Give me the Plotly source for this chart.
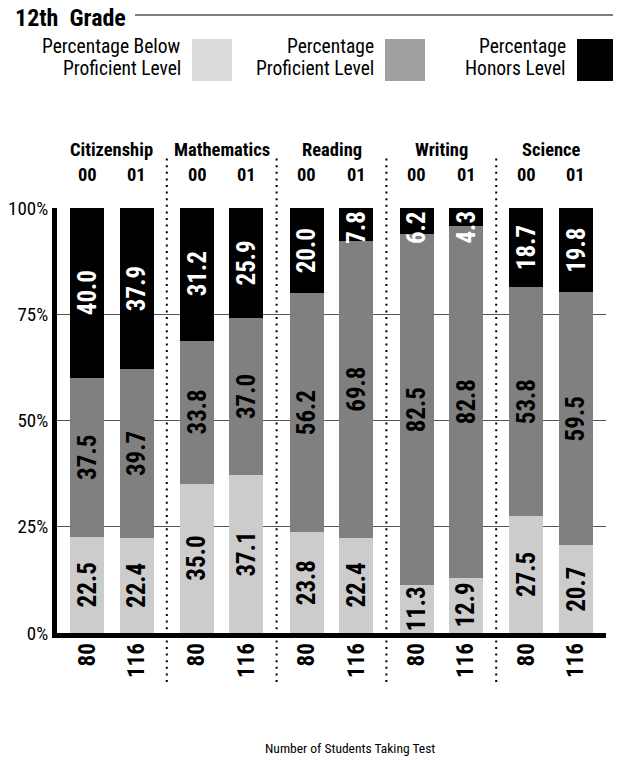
import plotly.graph_objects as go

subjects = ["Citizenship", "Mathematics", "Reading", "Writing", "Science"]
years = ["00", "01"]
below = [22.5, 22.4, 35.0, 37.1, 23.8, 22.4, 11.3, 12.9, 27.5, 20.7]
proficient = [37.5, 39.7, 33.8, 37.0, 56.2, 69.8, 82.5, 82.8, 53.8, 59.5]
honors = [40.0, 37.9, 31.2, 25.9, 20.0, 7.8, 6.2, 4.3, 18.7, 19.8]
students = ["80", "116", "80", "116", "80", "116", "80", "116", "80", "116"]
y_ticks = [0, 25, 50, 75, 100]
y_tick_labels = ["0%", "25%", "50%", "75%", "100%"]
legend_lines = [["Percentage Below", "Proficient Level"],
                ["Percentage", "Proficient Level"],
                ["Percentage", "Honors Level"]]
title_text = "12th\u00a0\u00a0Grade"
x_title = "Number of Students Taking Test"

W, H = 621, 761
OX, OY = 8, 8            # page body offset
L, R, T, B = 49, 23, 200, 136
PW, PH = W - L - R, H - T - B
XR = [-0.5, len(subjects) - 0.5]


def sx(px):
    return (px - OX - L) / PW


def sy(py):
    return (H - B - (py - OY)) / PH


FN = "Roboto Condensed, Open Sans Condensed, Arial Narrow, sans-serif"

off = 0.225
xs = []
for g in range(len(subjects)):
    for j in range(len(years)):
        xs.append(g + (-off if j == 0 else off))

bar_c = ["#cccccc", "#808080", "#000000"]
leg_c = ["#dcdcde", "#a0a0a2", "#000000"]

fig = go.Figure()
for vals, col, nm in zip([below, proficient, honors], bar_c, ["Below", "Proficient", "Honors"]):
    fig.add_trace(go.Bar(x=xs, y=vals, width=0.31, marker=dict(color=col, line=dict(width=0)),
                         name=nm, showlegend=False, hoverinfo="skip"))

VF = dict(family=FN, size=25, weight="bold")
ann = []
for i, x in enumerate(xs):
    b, p, h = below[i], proficient[i], honors[i]
    ann.append(dict(x=x, y=b / 2, text=f"{b:.1f}", textangle=-90, showarrow=False,
                    xanchor="center", yanchor="middle", font=dict(VF, color="black")))
    ann.append(dict(x=x, y=b + p / 2, text=f"{p:.1f}", textangle=-90, showarrow=False,
                    xanchor="center", yanchor="middle", font=dict(VF, color="black")))
    if h < 10:
        ann.append(dict(x=x, y=b + p + h, yanchor="top", yshift=-1, text=f"{h:.1f}", textangle=-90,
                        xanchor="center", showarrow=False, font=dict(VF, color="white")))
    else:
        ann.append(dict(x=x, y=b + p + h / 2, text=f"{h:.1f}", textangle=-90, showarrow=False,
                        xanchor="center", yanchor="middle", font=dict(VF, color="white")))

HF = dict(family=FN, size=18.5, color="black", weight="bold")
for g, s in enumerate(subjects):
    ann.append(dict(x=g, xref="x", y=sy(150), yref="paper", text=s, showarrow=False,
                    xanchor="center", yanchor="middle", font=HF))
for i, x in enumerate(xs):
    ann.append(dict(x=x, xref="x", y=sy(175), yref="paper", text=years[i % 2], showarrow=False,
                    xanchor="center", yanchor="middle", font=HF))

ann.append(dict(x=sx(13), xref="paper", xanchor="left", y=sy(18), yref="paper", yanchor="middle",
                text=title_text, showarrow=False,
                font=dict(family=FN, size=24, color="black", weight="bold")))

ann.append(dict(x=sx(350), xref="paper", xanchor="center", y=sy(748), yref="paper", yanchor="middle",
                text=x_title, showarrow=False, font=dict(family=FN, size=13.5, color="black")))

shapes = [dict(type="line", xref="paper", yref="paper", x0=sx(135), x1=sx(640),
               y0=sy(15), y1=sy(15), line=dict(color="black", width=1))]

sw_left = [192, 385, 577]
for k in range(3):
    shapes.append(dict(type="rect", xref="paper", yref="paper",
                       x0=sx(sw_left[k]), x1=sx(sw_left[k] + 40),
                       y0=sy(39), y1=sy(81), fillcolor=leg_c[k], line=dict(width=0)))
    for li, (line_txt, ly) in enumerate(zip(legend_lines[k], [46, 69])):
        ann.append(dict(x=sx(sw_left[k] - 9), xref="paper", xanchor="right", align="right",
                        y=sy(ly), yref="paper", yanchor="middle", text=line_txt, showarrow=False,
                        font=dict(family=FN, size=19.5, color="black")))

for g in range(len(subjects) - 1):
    xp = (g + 0.5 - XR[0]) / (XR[1] - XR[0])
    shapes.append(dict(type="line", xref="paper", yref="paper", x0=xp, x1=xp,
                       y0=sy(682), y1=sy(158), line=dict(color="black", width=2, dash="2px,4.6px")))

fig.update_layout(
    width=W, height=H, margin=dict(l=L, r=R, t=T, b=B, pad=0, autoexpand=False),
    paper_bgcolor="white", plot_bgcolor="white",
    barmode="stack", bargap=0,
    annotations=ann, shapes=shapes,
    xaxis=dict(range=XR, tickvals=xs, ticktext=students, tickangle=-90, ticks="",
               showgrid=False, zeroline=False, showline=True, linewidth=5, linecolor="black",
               ticklabelstandoff=-4, automargin=False,
               tickfont=dict(family=FN, size=23, color="black", weight="bold")),
    yaxis=dict(range=[0, 100], tickvals=y_ticks, ticktext=y_tick_labels, ticks="",
               showgrid=True, gridcolor="#555555", gridwidth=1, zeroline=False,
               showline=True, linewidth=5, linecolor="black", automargin=False,
               tickfont=dict(family=FN, size=19, color="black")),
)

fig.write_html("out.html")
